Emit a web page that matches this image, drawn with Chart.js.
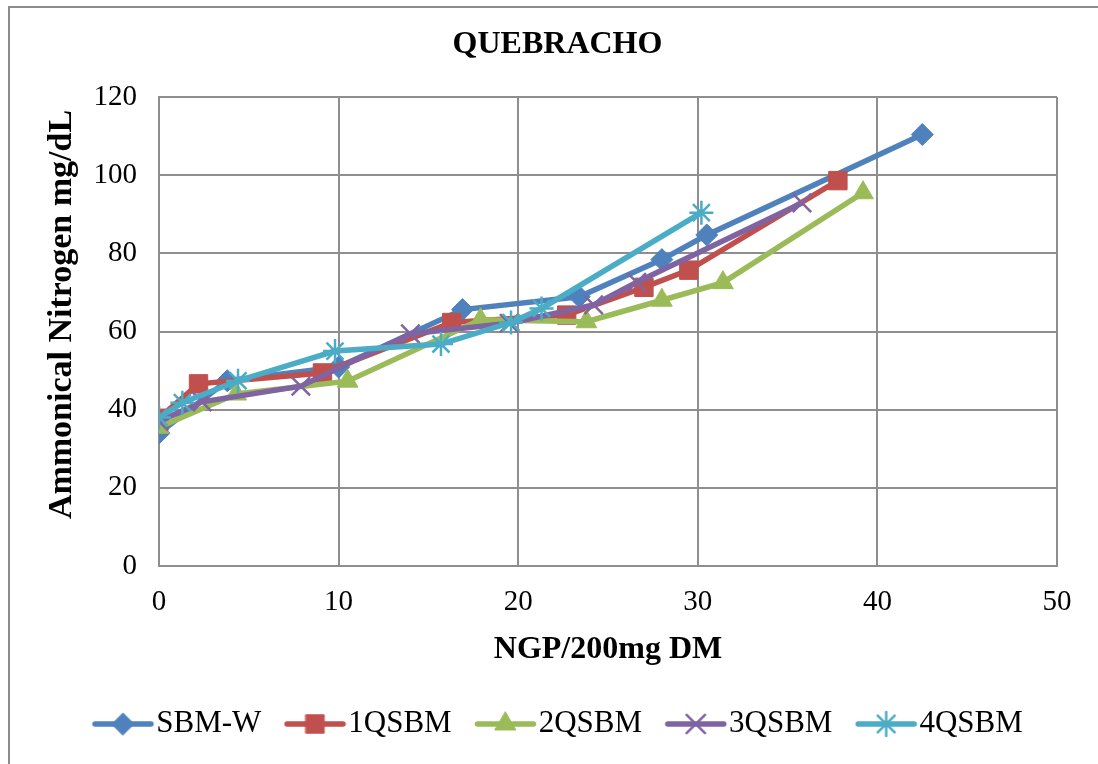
<!DOCTYPE html>
<html><head><meta charset="utf-8">
<script src="https://cdn.jsdelivr.net/npm/chart.js@4"></script>
<style>
html,body{margin:0;padding:0;background:#fff;overflow:hidden}
#wrap{position:relative;width:1098px;height:764px}
#frame{position:absolute;left:8px;top:6px;width:1110px;height:790px;border:2px solid #8c8c8c;box-sizing:border-box;pointer-events:none}
</style></head><body>
<div id="wrap"><canvas id="c" width="1098" height="764"></canvas><div id="frame"></div></div>
<script>
const chartTitle = 'QUEBRACHO';
const xTitle = 'NGP/200mg DM';
const yTitle = '    Ammonical Nitrogen mg/dL';
const seriesNames = ['SBM-W', '1QSBM', '2QSBM', '3QSBM', '4QSBM'];

const sbmwX = [0, 3.8, 10.0, 16.9, 23.4, 28.0, 30.5, 42.5];
const sbmwY = [34.0, 47.4, 50.9, 65.6, 68.9, 78.4, 84.7, 110.4];
const q1X = [0, 2.2, 9.1, 16.3, 22.7, 27.0, 29.5, 37.8];
const q1Y = [37.8, 46.6, 49.4, 62.3, 64.2, 71.3, 75.7, 98.6];
const q2X = [0, 4.3, 10.5, 17.9, 23.8, 28.0, 31.4, 39.2];
const q2Y = [35.5, 44.0, 47.3, 63.0, 62.5, 68.0, 72.5, 95.5];
const q3X = [0, 2.4, 7.9, 14.0, 19.5, 24.2, 26.6, 35.8];
const q3Y = [37.0, 42.0, 46.0, 59.4, 62.1, 66.8, 72.6, 92.9];
const q4X = [0, 1.3, 4.4, 9.8, 15.7, 19.6, 21.3, 30.2];
const q4Y = [38.0, 41.8, 47.4, 55.0, 56.8, 62.3, 65.9, 90.4];

const xs = [sbmwX, q1X, q2X, q3X, q4X];
const ys = [sbmwY, q1Y, q2Y, q3Y, q4Y];
const colors = ['#4F81BD', '#C0504D', '#9BBB59', '#8064A2', '#4BACC6'];
const styles = ['rectRot', 'rect', 'triangle', 'crossRot', 'star'];
const radii = [11, 13, 12, 13, 12];
const bw = [1, 1, 1, 2.5, 2.5];

const FONT = "'Liberation Serif', 'Times New Roman', serif";

function legendImage(i) {
  const c = document.createElement('canvas');
  c.width = 76; c.height = 30;
  const ctx = c.getContext('2d');
  ctx.strokeStyle = colors[i];
  ctx.lineWidth = 5.5;
  ctx.lineCap = 'round';
  ctx.beginPath(); ctx.moveTo(16.5, 15); ctx.lineTo(72.5, 15); ctx.stroke();
  ctx.fillStyle = colors[i];
  ctx.strokeStyle = colors[i];
  ctx.lineWidth = bw[i];
  Chart.helpers.drawPoint(ctx, {pointStyle: styles[i], radius: radii[i], rotation: 0, borderWidth: bw[i]}, 44.5, 15);
  return c;
}

const datasets = seriesNames.map((n, i) => ({
  label: n,
  data: xs[i].map((x, k) => ({x: x, y: ys[i][k]})),
  borderColor: colors[i],
  backgroundColor: colors[i],
  borderWidth: 5.5,
  pointStyle: styles[i],
  pointRadius: radii[i],
  pointHoverRadius: radii[i],
  pointBackgroundColor: colors[i],
  pointBorderColor: colors[i],
  pointBorderWidth: bw[i],
  tension: 0,
  order: seriesNames.length - i
}));

const gridColor = '#8e8e8e';

new Chart(document.getElementById('c'), {
  type: 'line',
  data: {datasets},
  options: {
    responsive: false,
    animation: false,
    layout: {padding: {left: 58, right: 41, top: 0, bottom: 14.5}},
    plugins: {
      title: {display: true, text: chartTitle, color: '#000',
        font: {family: FONT, size: 32, weight: 'bold'}, padding: {top: 25.8, bottom: 32.8}},
      legend: {display: true, position: 'bottom',
        labels: {usePointStyle: true, pointStyleWidth: 48.5, padding: 23, color: '#000',
          font: {family: FONT, size: 31},
          generateLabels: (chart) => chart.data.datasets.map((d, i) => ({
            text: d.label, pointStyle: legendImage(i), fillStyle: colors[i], strokeStyle: colors[i],
            lineWidth: 0, datasetIndex: i, hidden: false
          }))
        }
      },
      tooltip: {enabled: false}
    },
    scales: {
      x: {type: 'linear', min: 0, max: 50,
        ticks: {stepSize: 10, color: '#000', font: {family: FONT, size: 29}, padding: 19},
        grid: {color: gridColor, lineWidth: 2, drawTicks: false},
        border: {color: gridColor, width: 2},
        title: {display: true, text: xTitle, color: '#000', font: {family: FONT, size: 32, weight: 'bold'}, padding: {top: 0, bottom: 16.3}},
        afterFit: (s) => { s.height = 119.5; }
      },
      y: {type: 'linear', min: 0, max: 120,
        ticks: {stepSize: 20, color: '#000', font: {family: FONT, size: 29}, padding: 22},
        grid: {color: gridColor, lineWidth: 2, drawTicks: false},
        border: {color: gridColor, width: 2},
        title: {display: true, text: yTitle, color: '#000', font: {family: FONT, size: 34, weight: 'bold'}, padding: {top: -16.4, bottom: 0}},
        afterFit: (s) => { s.width = 101; }
      }
    }
  }
});
</script>
</body></html>
